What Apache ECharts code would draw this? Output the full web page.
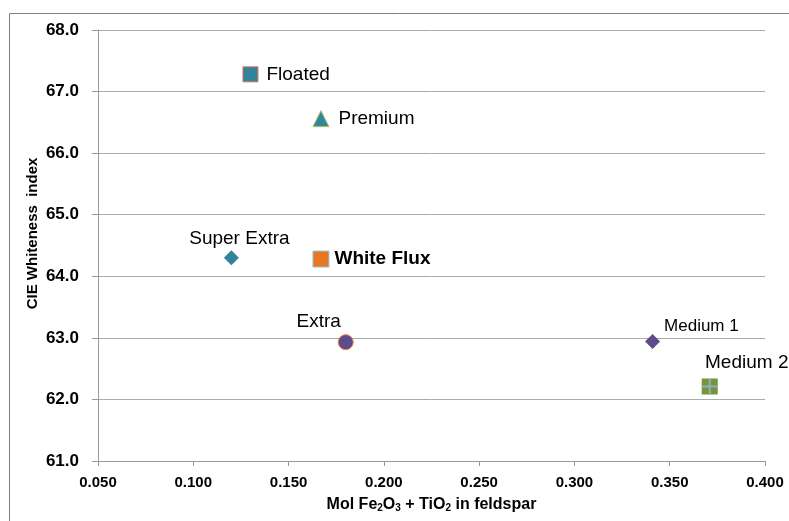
<!DOCTYPE html>
<html><head><meta charset="utf-8">
<script src="https://cdn.jsdelivr.net/npm/echarts@6/dist/echarts.min.js"></script>
<style>html,body{margin:0;padding:0;background:#fff}#c{width:789px;height:521px}</style>
</head><body><div id="c"></div>
<script>
const names = ['Floated','Premium','Super Extra','White Flux','Extra','Medium 1','Medium 2'];
const xVals = [0.130, 0.167, 0.120, 0.167, 0.180, 0.341, 0.371];
const yVals = [67.28, 66.56, 64.30, 64.28, 62.93, 62.94, 62.21];
const xTicks = [0.05,0.10,0.15,0.20,0.25,0.30,0.35,0.40];
const yTicks = [61,62,63,64,65,66,67,68];

const FF = 'Liberation Sans, Arial, sans-serif';
const styles = [
  {symbol:'rect', size:15, color:'#31849b', border:'#e07060', bw:1, label:{position:'right', distance:8, fontSize:19}},
  {symbol:'triangle', size:16, color:'#31859c', border:'#b8c060', bw:1, label:{position:'right', distance:9, fontSize:19}},
  {symbol:'diamond', size:15, color:'#31849b', border:'#31849b', bw:0, label:{position:'top', distance:2, offset:[8,0], fontSize:19}},
  {symbol:'rect', size:16, color:'#e87722', border:'#8ec8e0', bw:1, label:{position:'right', distance:5, fontSize:19, fontWeight:'bold'}},
  {symbol:'circle', size:15, color:'#5f4b8b', border:'#f08040', bw:1, label:{position:'top', distance:3, offset:[-27,0], fontSize:19}},
  {symbol:'diamond', size:15, color:'#5f4b8b', border:'#5f4b8b', bw:0, label:{position:'right', distance:4, offset:[0,-15], fontSize:17}},
  {symbol:'rect', size:16, color:'#77933c', border:'#77933c', bw:0, label:{position:'top', distance:6, offset:[37,0], fontSize:19}}
];

const series = names.map((n,i)=>({
  type:'scatter', name:n, data:[[xVals[i], yVals[i]]],
  symbol: styles[i].symbol, symbolSize: styles[i].size,
  itemStyle:{color:styles[i].color, borderColor:styles[i].border, borderWidth:styles[i].bw, opacity:1},
  label:Object.assign({show:true, formatter:n, color:'#000', fontFamily:FF}, styles[i].label),
  z:3
}));
// cross overlay on Medium 2
series.push({
  type:'scatter', name:'Medium 2 cross', data:[[xVals[6], yVals[6]]],
  symbol:'path://M4.4,0 H5.6 V10 H4.4 Z M0,4.4 H10 V5.6 H0 Z', symbolSize:16,
  itemStyle:{color:'#8fb0c0', opacity:1}, z:4, silent:true
});

const chart = echarts.init(document.getElementById('c'));
chart.setOption({
  animation:false,
  backgroundColor:'#fff',
  graphic:[{type:'rect', shape:{x:9.5, y:13.5, width:800, height:600}, style:{fill:'none', stroke:'#808080', lineWidth:1}, silent:true}],
  grid:{left:98, right:24, top:30, bottom:60},
  xAxis:{
    type:'value', min:0.05, max:0.40, interval:0.05,
    name:'{a|Mol Fe}{s|2}{a|O}{s|3}{a| + TiO}{s|2}{a| in feldspar}', nameLocation:'middle', nameGap:35,
    nameTextStyle:{rich:{a:{fontSize:16, fontWeight:'bold', color:'#000', fontFamily:FF}, s:{fontSize:10, fontWeight:'bold', color:'#000', verticalAlign:'bottom', padding:[7,0,0,0], fontFamily:FF}}},
    axisLine:{show:true, lineStyle:{color:'#999'}},
    axisTick:{show:true, length:5, lineStyle:{color:'#999'}},
    splitLine:{show:false},
    axisLabel:{formatter:v=>v.toFixed(3), fontSize:15, fontWeight:'bold', color:'#000', margin:14, fontFamily:FF}
  },
  yAxis:{
    type:'value', min:61, max:68, interval:1,
    name:'CIE Whiteness  index', nameLocation:'middle', nameGap:58, nameMoveOverlap:false,
    nameTextStyle:{fontSize:15, fontWeight:'bold', color:'#000', fontFamily:FF, padding:[0,0,0,24]},
    axisLine:{show:true, lineStyle:{color:'#999'}},
    axisTick:{show:true, length:6, lineStyle:{color:'#999'}},
    splitLine:{show:true, lineStyle:{color:'#aaa', width:1}},
    axisLabel:{formatter:v=>v.toFixed(1), fontSize:17, fontWeight:'bold', color:'#000', margin:19, fontFamily:FF}
  },
  series:series
});
</script></body></html>
